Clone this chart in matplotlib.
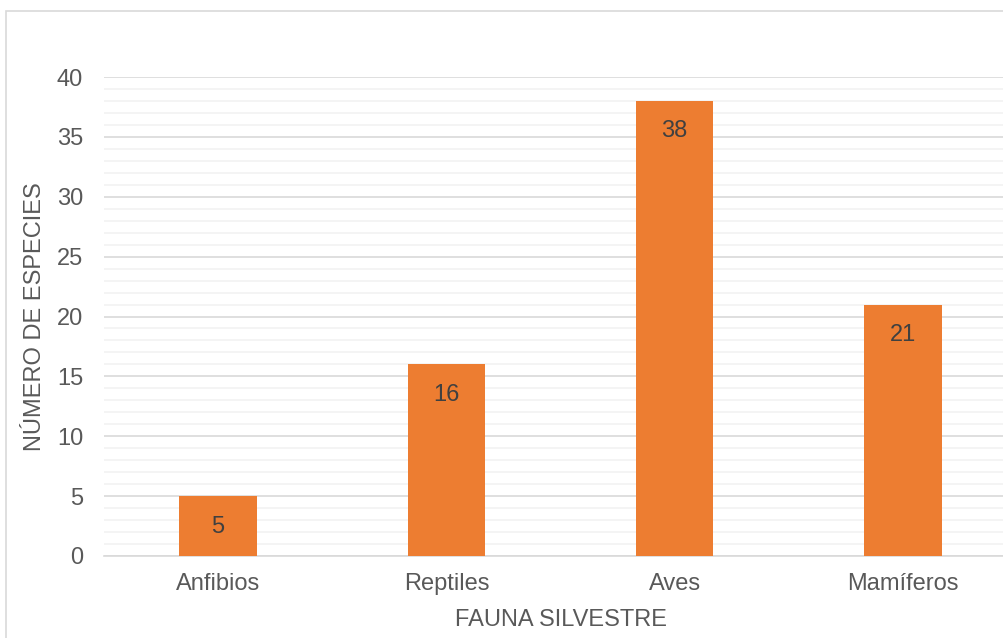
import matplotlib
matplotlib.use('Agg')
import matplotlib.pyplot as plt
from matplotlib.patches import Rectangle
from matplotlib.ticker import MultipleLocator

# datos
categorias = ['Anfibios', 'Reptiles', 'Aves', 'Mamíferos']
especies = [5, 16, 38, 21]

GRIS = '#595959'
FS = 17
plt.rcParams['font.family'] = ['Liberation Sans', 'DejaVu Sans']

fig = plt.figure(figsize=(10.04, 6.38), dpi=100)
# marco exterior del grafico
fig.patches.append(Rectangle((6/1004, -0.05), 1.1, 1 - 11/638 + 0.05,
                             transform=fig.transFigure, fill=False,
                             edgecolor='#d9d9d9', linewidth=1.2))

ax = fig.add_axes([104/1004, 82/638, 913/1004, 479/638])
x = range(len(categorias))
barras = ax.bar(x, especies, width=0.34, color='#ed7d31', zorder=3)

ax.set_xlim(-0.5, 3.5)
ax.set_ylim(0, 40)
ax.yaxis.set_major_locator(MultipleLocator(5))
ax.yaxis.set_minor_locator(MultipleLocator(1))
ax.grid(which='major', axis='y', color='#d9d9d9', linewidth=1.2, zorder=0)
ax.grid(which='minor', axis='y', color='#f2f2f2', linewidth=1.2, zorder=0)
for s in ['top', 'right', 'left']:
    ax.spines[s].set_visible(False)
ax.spines['bottom'].set_color('#d9d9d9')
ax.spines['bottom'].set_linewidth(1.2)
ax.tick_params(which='both', length=0, colors=GRIS, labelsize=FS)
ax.tick_params(axis='y', pad=15)
ax.tick_params(axis='x', pad=12)
ax.set_xticks(list(x))
ax.set_xticklabels(categorias)

for b, v in zip(barras, especies):
    ax.annotate(str(v), (b.get_x() + b.get_width()/2, v), xytext=(0, -14),
                textcoords='offset points', ha='center', va='top',
                color='#404040', fontsize=FS)

ax.set_ylabel('NÚMERO DE ESPECIES', color=GRIS, fontsize=FS)
ax.set_xlabel('FAUNA SILVESTRE', color=GRIS, fontsize=FS)
ax.yaxis.set_label_coords(-69/913, 0.5)
ax.xaxis.set_label_coords((561 - 104)/913, -64/479)
ax.xaxis.label.set_verticalalignment('center')
ax.yaxis.label.set_verticalalignment('center')

fig.savefig('out.png', dpi=100)
